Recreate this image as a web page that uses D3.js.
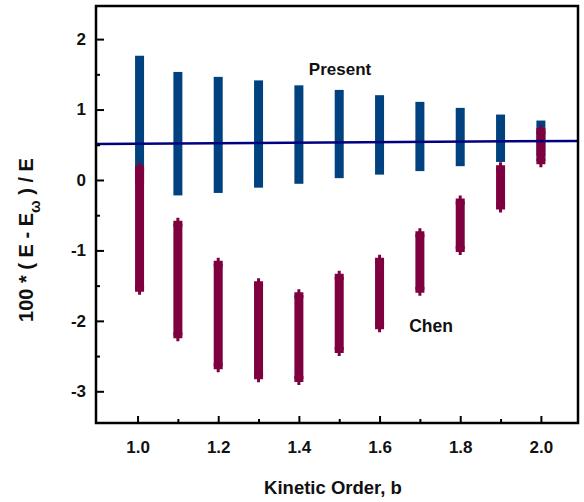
<!DOCTYPE html>
<html>
<head>
<meta charset="utf-8">
<script src="https://cdn.jsdelivr.net/npm/d3@7"></script>
<style>
  body { margin: 0; background: #fff; }
  text { font-family: "Liberation Sans", Arial, sans-serif; font-weight: bold; fill: #111; }
</style>
</head>
<body>
<div id="chart"></div>
<script>
// Kinetic order values (first column sits slightly right of 1.0)
const orders = [1.005, 1.1, 1.2, 1.3, 1.4, 1.5, 1.6, 1.7, 1.8, 1.9, 2.0]

// "Present" spread of 100*(E-Einf)/E, lowest / highest point per order
const presentHi = [1.70, 1.47, 1.40, 1.35, 1.28, 1.215, 1.14, 1.045, 0.96, 0.865, 0.78]
const presentLo = [0.00, -0.155, -0.12, -0.045, 0.01, 0.09, 0.14, 0.19, 0.26, 0.32, 0.40]

// "Chen" spread
const chenHi = [0.16, -0.62, -1.19, -1.48, -1.635, -1.375, -1.145, -0.77, -0.305, 0.165, 0.695]
const chenLo = [-1.545, -2.205, -2.645, -2.785, -2.825, -2.415, -2.075, -1.56, -0.98, -0.375, 0.265]

// fitted line (end points)
const lineX = [0.897, 2.092]
const lineY = [0.51, 0.555]

const xTicks = [1.0, 1.2, 1.4, 1.6, 1.8, 2.0]
const xMinor = [1.1, 1.3, 1.5, 1.7, 1.9]
const yTicks = [-3, -2, -1, 0, 1, 2]
const yMinor = [-2.5, -1.5, -0.5, 0.5, 1.5]

const BLUE = "#00427f"
const RED = "#7f003f"
const LINE = "#000080"

const W = 584, H = 502
const margin = { top: 6, right: 6, bottom: 79, left: 96 }

const svg = d3.select("#chart").append("svg")
    .attr("width", W)
    .attr("height", H)

const x = d3.scaleLinear().domain([0.897, 2.092]).range([margin.left, W - margin.right])
const y = d3.scaleLinear().domain([-3.45, 2.47]).range([H - margin.bottom, margin.top])

const colW = 9

// Present columns (square markers stacked)
svg.append("g").selectAll("rect")
    .data(orders)
    .join("rect")
    .attr("x", d => x(d) - colW / 2)
    .attr("y", (d, i) => y(presentHi[i]) - colW / 2)
    .attr("width", colW)
    .attr("height", (d, i) => y(presentLo[i]) - y(presentHi[i]) + colW)
    .attr("fill", BLUE)

// Chen columns (plus markers stacked)
const plus = function(cx, cy) {
    return "M" + (cx - 4.5) + "," + (cy - 3) + "h3v-3h3v3h3v6h-3v3h-3v-3h-3z"
}
const chenG = svg.append("g")
chenG.selectAll("rect")
    .data(orders)
    .join("rect")
    .attr("x", d => x(d) - colW / 2)
    .attr("y", (d, i) => y(chenHi[i]))
    .attr("width", colW)
    .attr("height", (d, i) => y(chenLo[i]) - y(chenHi[i]))
    .attr("fill", RED)
chenG.selectAll("path.top")
    .data(orders)
    .join("path")
    .attr("class", "top")
    .attr("d", (d, i) => plus(x(d), y(chenHi[i])))
    .attr("fill", RED)
chenG.selectAll("path.bot")
    .data(orders)
    .join("path")
    .attr("class", "bot")
    .attr("d", (d, i) => plus(x(d), y(chenLo[i])))
    .attr("fill", RED)

// fitted line
svg.append("path")
    .datum(lineX.map((d, i) => [d, lineY[i]]))
    .attr("d", d3.line().x(d => x(d[0])).y(d => y(d[1])))
    .attr("stroke", LINE)
    .attr("stroke-width", 2.5)
    .attr("fill", "none")

// frame
svg.append("rect")
    .attr("x", margin.left)
    .attr("y", margin.top)
    .attr("width", W - margin.left - margin.right)
    .attr("height", H - margin.top - margin.bottom)
    .attr("fill", "none")
    .attr("stroke", "#000")
    .attr("stroke-width", 2.5)

// axes with inward ticks
const xAxis = d3.axisBottom(x).tickValues(xTicks).tickFormat(d3.format(".1f"))
    .tickSizeInner(-7).tickSizeOuter(0).tickPadding(18)
const gx = svg.append("g")
    .attr("transform", "translate(0," + (H - margin.bottom) + ")")
    .call(xAxis)
gx.select(".domain").remove()
gx.selectAll("text").style("font-size", "17px").attr("fill", "#111")
gx.selectAll("line").attr("stroke-width", 2)
svg.append("g")
    .attr("transform", "translate(0," + (H - margin.bottom) + ")")
    .call(d3.axisBottom(x).tickValues(xMinor).tickSizeInner(-4).tickSizeOuter(0).tickFormat(""))
    .call(g => g.select(".domain").remove())
    .selectAll("line").attr("stroke-width", 2)

const yAxis = d3.axisLeft(y).tickValues(yTicks).tickFormat(d => String(d))
    .tickSizeInner(-8).tickSizeOuter(0).tickPadding(10)
const gy = svg.append("g")
    .attr("transform", "translate(" + margin.left + ",0)")
    .call(yAxis)
gy.select(".domain").remove()
gy.selectAll("text").style("font-size", "17px").attr("fill", "#111")
gy.selectAll("line").attr("stroke-width", 2)
svg.append("g")
    .attr("transform", "translate(" + margin.left + ",0)")
    .call(d3.axisLeft(y).tickValues(yMinor).tickSizeInner(-4).tickSizeOuter(0).tickFormat(""))
    .call(g => g.select(".domain").remove())
    .selectAll("line").attr("stroke-width", 2)

// axis titles
svg.append("text")
    .attr("x", 333)
    .attr("y", 494)
    .attr("text-anchor", "middle")
    .style("font-size", "18.5px")
    .text("Kinetic Order, b")

const yt = svg.append("text")
    .attr("transform", "translate(33,240) rotate(-90)")
    .attr("text-anchor", "middle")
    .style("font-size", "20px")
yt.append("tspan").text("100 * ( E - E")
yt.append("tspan").attr("dy", 7).style("font-size", "15px").text("ω")
yt.append("tspan").attr("dy", -7).text(" ) / E")

// series labels
svg.append("text")
    .attr("x", 340).attr("y", 75)
    .attr("text-anchor", "middle")
    .style("font-size", "17px")
    .text("Present")
svg.append("text")
    .attr("x", 431).attr("y", 332)
    .attr("text-anchor", "middle")
    .style("font-size", "17.5px")
    .text("Chen")
</script>
</body>
</html>
